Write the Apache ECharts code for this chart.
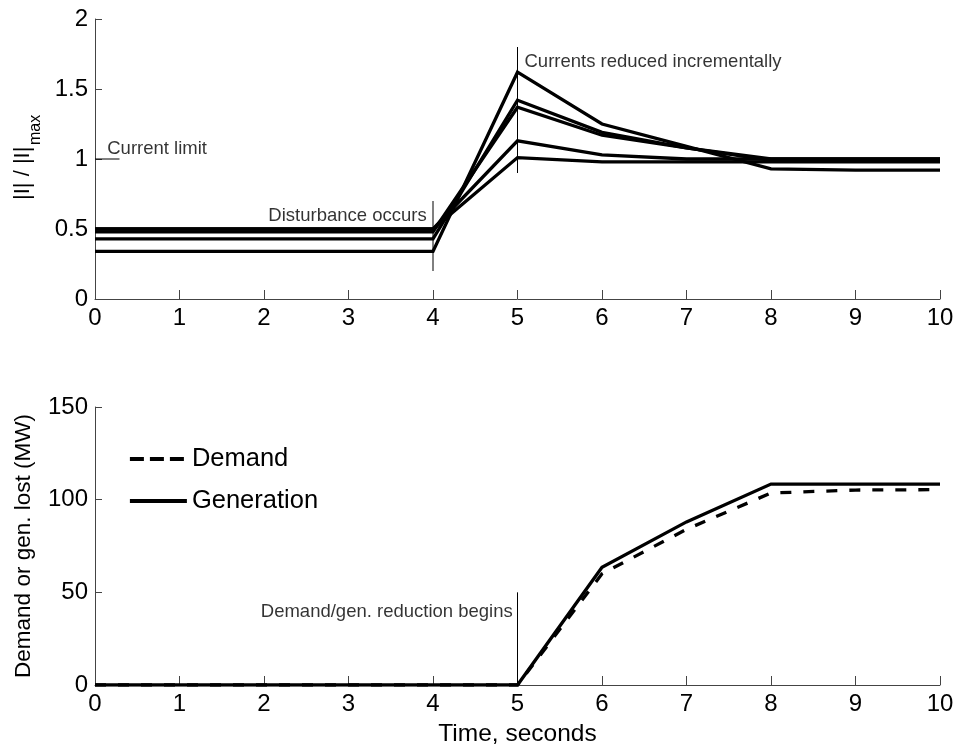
<!DOCTYPE html>
<html>
<head>
<meta charset="utf-8">
<title>Current limiting and demand/generation reduction</title>
<script src="https://cdn.jsdelivr.net/npm/echarts@6/dist/echarts.min.js"></script>
<style>
  html, body { margin: 0; padding: 0; background: #fff; }
  #chart { width: 958px; height: 748px; }
</style>
</head>
<body>
<div id="chart"></div>
<script>
// Time axis shared by both panels (seconds)
var timeSec = [0, 1, 2, 3, 4, 5, 6, 7, 8, 9, 10];

// Normalised branch currents |I| / |I|max
var currentA = [0.34, 0.34, 0.34, 0.34, 0.34, 1.62, 1.25, 1.09, 0.93, 0.92, 0.92];
var currentB = [0.43, 0.43, 0.43, 0.43, 0.43, 1.42, 1.19, 1.08, 1.00, 1.00, 1.00];
var currentC = [0.48, 0.48, 0.48, 0.48, 0.48, 1.37, 1.17, 1.08, 0.99, 0.99, 0.99];
var currentD = [0.50, 0.50, 0.50, 0.50, 0.50, 1.13, 1.03, 1.00, 1.00, 1.00, 1.00];
var currentE = [0.50, 0.50, 0.50, 0.50, 0.50, 1.01, 0.98, 0.98, 0.98, 0.98, 0.98];

// Demand and generation lost (MW)
var demandLost     = [0, 0, 0, 0, 0, 0, 60, 84, 103.6, 105.2, 105.4];
var generationLost = [0, 0, 0, 0, 0, 0, 63.5, 88, 108.4, 108.4, 108.4];

// Axis ticks
var currentTicks = [0, 0.5, 1, 1.5, 2];
var powerTicks = [0, 50, 100, 150];

// Event markers (time, value) and their captions
var currentLimitMark = [[0, 1], [0.29, 1]];
var disturbanceMark = [[4, 0.2], [4, 0.7]];
var reductionMark = [[5, 0.9], [5, 1.8]];
var reductionBeginsMark = [[5, 0], [5, 50]];

var FONT = '"Liberation Sans", Arial, Helvetica, sans-serif';

function pairs(xs, ys) {
  return xs.map(function (x, i) { return [x, ys[i]]; });
}

function curveSeries(name, ys, xIdx, dash) {
  return {
    name: name,
    type: 'line',
    xAxisIndex: xIdx,
    yAxisIndex: xIdx,
    data: pairs(timeSec, ys),
    symbol: 'none',
    showSymbol: false,
    lineStyle: { color: '#000', width: 3.3, type: dash || 'solid', join: 'miter' },
    itemStyle: { color: '#000' },
    silent: true,
    z: 3
  };
}

function markerSeries(pts, idx) {
  return {
    type: 'line',
    xAxisIndex: idx,
    yAxisIndex: idx,
    data: pts,
    symbol: 'none',
    lineStyle: { color: '#000', width: 1 },
    silent: true,
    z: 2
  };
}

function captionSeries(text, pt, idx, side) {
  return {
    type: 'scatter',
    xAxisIndex: idx,
    yAxisIndex: idx,
    data: [pt],
    symbolSize: 0,
    silent: true,
    label: {
      show: true,
      position: side,
      distance: 0,
      formatter: text,
      fontFamily: FONT,
      fontSize: 18.5,
      color: '#000'
    },
    z: 4
  };
}

function xAxisCfg(gridIndex, withName) {
  var cfg = {
    type: 'value',
    gridIndex: gridIndex,
    min: 0,
    max: 10,
    interval: 1,
    axisLine: { show: true, lineStyle: { color: '#444', width: 1 } },
    axisTick: { show: true, inside: true, length: 9, lineStyle: { color: '#444', width: 1 } },
    axisLabel: { color: '#000', fontFamily: FONT, fontSize: 24, margin: 7 },
    splitLine: { show: false }
  };
  if (withName) {
    cfg.name = 'Time, seconds';
    cfg.nameLocation = 'middle';
    cfg.nameGap = 37;
    cfg.nameTextStyle = { color: '#000', fontFamily: FONT, fontSize: 24.5 };
  }
  return cfg;
}

function yAxisCfg(gridIndex, ticks) {
  var cfg = {
    type: 'value',
    gridIndex: gridIndex,
    min: ticks[0],
    max: ticks[ticks.length - 1],
    interval: ticks[1] - ticks[0],
    axisLine: { show: true, lineStyle: { color: '#444', width: 1 } },
    axisTick: { show: true, inside: true, length: 7, lineStyle: { color: '#444', width: 1 } },
    axisLabel: { color: '#000', fontFamily: FONT, fontSize: 24, margin: 7 },
    splitLine: { show: false }
  };
  return cfg;
}

var powerAxis = yAxisCfg(1, powerTicks);
powerAxis.name = 'Demand or gen. lost (MW)';
powerAxis.nameLocation = 'middle';
powerAxis.nameRotate = 90;
powerAxis.nameGap = 60;
powerAxis.nameTextStyle = { color: '#000', fontFamily: FONT, fontSize: 22.5 };

var chart = echarts.init(document.getElementById('chart'), null, { renderer: 'canvas' });

chart.setOption({
  animation: false,
  backgroundColor: '#fff',
  grid: [
    { left: 95, right: 18, top: 19, height: 280 },
    { left: 95, right: 18, top: 407, height: 279 }
  ],
  xAxis: [xAxisCfg(0, false), xAxisCfg(1, true)],
  yAxis: [yAxisCfg(0, currentTicks), powerAxis],
  legend: {
    show: true,
    orient: 'vertical',
    left: 128,
    top: 445,
    padding: 0,
    itemWidth: 57,
    itemHeight: 28,
    itemGap: 14,
    selectedMode: false,
    itemStyle: { opacity: 0, borderWidth: 0 },
    textStyle: { color: '#000', fontFamily: FONT, fontSize: 25.5, lineHeight: 28 },
    data: [
      { name: 'Demand', lineStyle: { type: [14, 6], width: 3.8, color: '#000' } },
      { name: 'Generation', lineStyle: { width: 3.8, color: '#000' } }
    ]
  },
  graphic: [
    {
      type: 'group',
      x: 0,
      y: 200,
      rotation: Math.PI / 2,
      silent: true,
      children: [
        {
          type: 'text',
          x: 0,
          y: 23,
          style: {
            text: '|I| / |I|',
            fontFamily: FONT,
            fontSize: 22,
            fill: '#000',
            align: 'left',
            verticalAlign: 'middle'
          }
        },
        {
          type: 'text',
          x: 55,
          y: 36,
          style: {
            text: 'max',
            fontFamily: FONT,
            fontSize: 16,
            fill: '#000',
            align: 'left',
            verticalAlign: 'middle'
          }
        }
      ]
    }
  ],
  series: [
    curveSeries('I1', currentA, 0),
    curveSeries('I2', currentB, 0),
    curveSeries('I3', currentC, 0),
    curveSeries('I4', currentD, 0),
    curveSeries('I5', currentE, 0),
    markerSeries(currentLimitMark, 0),
    markerSeries(disturbanceMark, 0),
    markerSeries(reductionMark, 0),
    captionSeries('Current limit', [0.145, 1.074], 0, 'right'),
    captionSeries('Disturbance occurs', [3.925, 0.595], 0, 'left'),
    captionSeries('Currents reduced incrementally', [5.083, 1.695], 0, 'right'),

    curveSeries('Demand', demandLost, 1, [11, 12]),
    curveSeries('Generation', generationLost, 1),
    markerSeries(reductionBeginsMark, 1),
    captionSeries('Demand/gen. reduction begins', [4.944, 39.4], 1, 'left')
  ]
});
</script>
</body>
</html>
